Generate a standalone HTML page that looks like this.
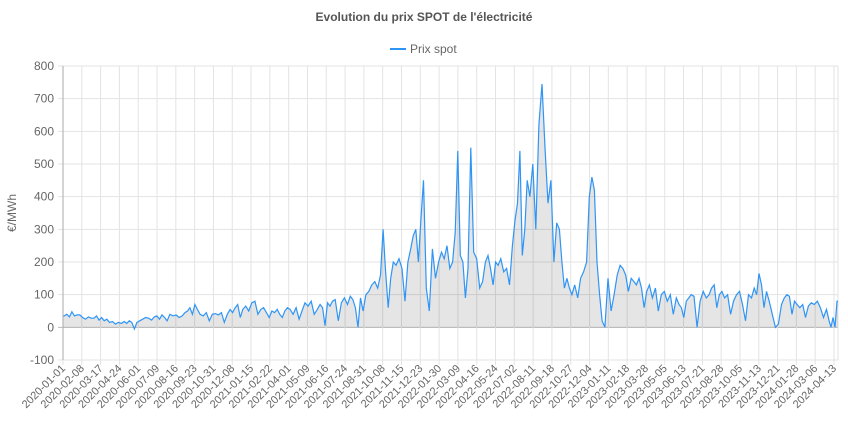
<!DOCTYPE html>
<html><head><meta charset="utf-8"><style>
body{margin:0;background:#fff;font-family:"Liberation Sans",sans-serif}
svg{display:block}
</style></head><body>
<svg id="c" width="848" height="424">
<text x="424" y="21" text-anchor="middle" font-size="12" font-weight="bold" fill="#555">Evolution du prix SPOT de l'électricité</text>
<g>
<rect x="390" y="48" width="16" height="2" fill="#2f95f5"></rect>
<text x="410" y="53" font-size="12" fill="#666">Prix spot</text>
</g>
<text transform="translate(16,213) rotate(-90)" text-anchor="middle" font-size="12" fill="#666">€/MWh</text>
<g id="grid"></g><g id="series"></g><g id="axes"></g>
</svg>
<script>
const months=['2020-01','2020-02','2020-03','2020-04','2020-05','2020-06','2020-07','2020-08','2020-09','2020-10','2020-11','2020-12',
'2021-01','2021-02','2021-03','2021-04','2021-05','2021-06','2021-07','2021-08','2021-09','2021-10','2021-11','2021-12',
'2022-01','2022-02','2022-03','2022-04','2022-05','2022-06','2022-07','2022-08','2022-09','2022-10','2022-11','2022-12',
'2023-01','2023-02','2023-03','2023-04','2023-05','2023-06','2023-07','2023-08','2023-09','2023-10','2023-11','2023-12',
'2024-01','2024-02','2024-03','2024-04'];
const values=[[35,40,32,48,35,38],[38,30,25,32,28],[28,35,22,30,20,25],[15,18,10,15,12],[18,12,20,15,-5,15],[20,25,30,28,22],[32,35,25,38,30,20],[40,35,38,30,35],[45,50,60,40,70,55],[40,35,45,20,40],[42,38,45,15,40],[55,45,60,70,30,55],
[65,50,75,80,40],[55,60,45,30,50],[45,55,40,30,50,60],[55,40,60,25,50],[75,65,80,40,55],[70,60,5,75,65,80],[85,20,75,90,70],[95,85,60,0,90,50],[100,110,130,140,120],[160,300,170,60,150,200],[190,210,180,80,200],[240,280,300,200,330,450],
[120,50,240,150,200],[230,210,250,180,200],[290,540,220,200,90,180],[550,230,210,120,140],[200,220,180,130,200,190],[210,170,180,130,250],[330,380,540,220,300,450],[400,500,300,620,745],[550,380,450,200,320],[300,200,120,150,120,100],[130,90,150,170,200],[400,460,420,200,100,20],
[0,150,50,100,160],[190,180,160,110,150],[140,130,150,120,60,110],[130,90,120,50,100],[110,80,100,40,90],[70,60,30,80,90,100],[95,0,80,110,90],[100,120,130,60,100,110],[90,100,40,80,100],[110,70,20,100,90],[120,100,165,130,60,110],[80,40,0,10,70],
[90,100,95,40,80,70],[60,70,30,65,75],[70,80,60,30,55],[20,0,30,0,80]];
const tickDates=['2020-01-01','2020-02-08','2020-03-17','2020-04-24','2020-06-01','2020-07-09','2020-08-16','2020-09-23','2020-10-31','2020-12-08',
'2021-01-15','2021-02-22','2021-04-01','2021-05-09','2021-06-16','2021-07-24','2021-08-31','2021-10-08','2021-11-15','2021-12-23',
'2022-01-30','2022-03-09','2022-04-16','2022-05-24','2022-07-02','2022-08-11','2022-09-18','2022-10-27','2022-12-04',
'2023-01-11','2023-02-18','2023-03-28','2023-05-05','2023-06-13','2023-07-21','2023-08-28','2023-10-05','2023-11-13','2023-12-21',
'2024-01-28','2024-03-06','2024-04-13'];
const yTicks=[-100,0,100,200,300,400,500,600,700,800];
const DAY=864e5;
const X0=63,XL=834,X1=838,Y0=360,Y1=66,YMIN=-100,YMAX=800;
const tt=tickDates.map(s=>Date.parse(s+'T00:00:00Z'));
const step=(XL-X0)/(tt.length-1);
const end=Date.parse('2024-04-21T00:00:00Z');
function xs(t){
 if(t<=tt[0])return X0;
 for(let i=1;i<tt.length;i++){if(t<=tt[i])return X0+step*(i-1+(t-tt[i-1])/(tt[i]-tt[i-1]));}
 return XL+(t-tt[tt.length-1])/(end-tt[tt.length-1])*(X1-XL);
}
const ys=v=>Y0-(v-YMIN)/(YMAX-YMIN)*(Y0-Y1);
const NS='http://www.w3.org/2000/svg';
function mk(tag,attrs,parent){const e=document.createElementNS(NS,tag);for(const k in attrs)e.setAttribute(k,attrs[k]);parent.appendChild(e);return e;}
const grid=document.getElementById('grid'),axes=document.getElementById('axes'),ser=document.getElementById('series');
yTicks.forEach(v=>{
 const l=mk('line',{x1:X0-5,x2:X1,y1:ys(v),y2:ys(v),stroke:v===0?'#bbb':'#e3e3e3','stroke-width':1},grid);
 
 
 const t=mk('text',{x:X0-9,y:ys(v)+4,'text-anchor':'end','font-size':12,fill:'#666'},axes);
 t.textContent=v;
 
 
});
tickDates.forEach((s,i)=>{
 const x=xs(tt[i]);
 const l=mk('line',{x1:x,x2:x,y1:Y1,y2:Y0+5,stroke:'#e3e3e3'},grid);
 
 
 const lab=mk('text',{transform:`translate(${x+3},${Y0+9}) rotate(-45)`,'text-anchor':'end','font-size':11,fill:'#666'},axes);
 lab.textContent=s;
 
 
});
mk('line',{x1:X0,x2:X0,y1:Y1,y2:Y0,stroke:'#aaa'},axes);
mk('line',{x1:X1,x2:X1,y1:Y1,y2:Y0,stroke:'#e3e3e3'},grid);
const pts=[];
months.forEach((m,i)=>{
 const [yy,mm]=m.split('-').map(Number);
 const ms=Date.UTC(yy,mm-1,1);let me=Date.UTC(yy,mm,1);if(me>end)me=end;
 const vals=values[i];
 vals.forEach((v,k)=>{pts.push([xs(ms+(k+0.5)/vals.length*(me-ms)),ys(v)]);});
});
pts.unshift([X0,ys(values[0][0])]);pts.push([X1,ys(values[values.length-1].slice(-1)[0])]);
const d=pts.map((p,i)=>(i?'L':'M')+p[0].toFixed(1)+','+p[1].toFixed(1)).join('');
const area=mk('path',{d:d+`L${X1},${ys(0)}L${X0},${ys(0)}Z`,fill:'rgba(0,0,0,0.1)'},ser);


const line=mk('path',{d:d,fill:'none',stroke:'#2f95f5','stroke-width':1.2},ser);


</script>
</body></html>
